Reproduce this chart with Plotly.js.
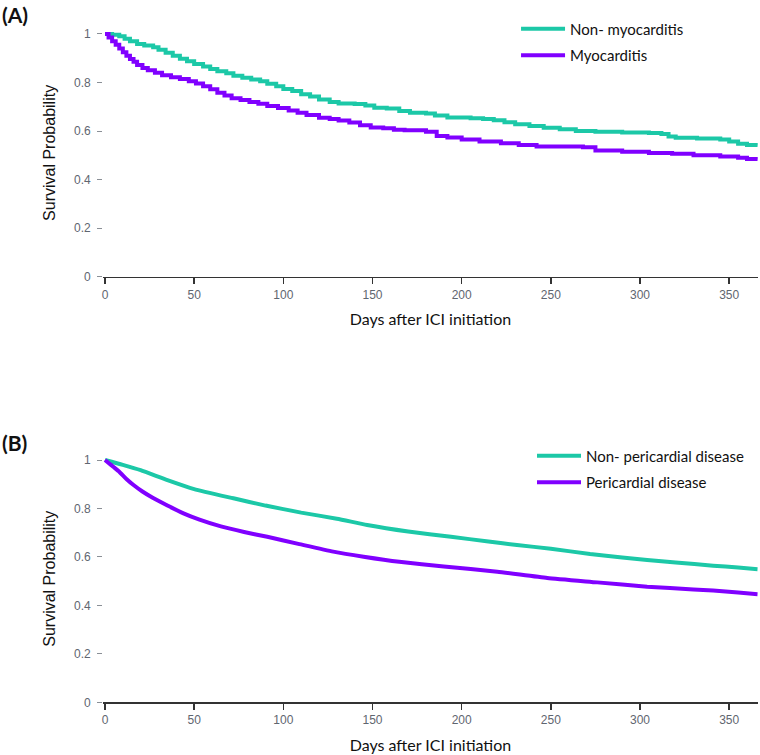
<!DOCTYPE html>
<html>
<head>
<meta charset="utf-8">
<script src="https://cdn.plot.ly/plotly-3.0.1.min.js"></script>
<style>html,body{margin:0;padding:0;background:#fff;}#chart{width:760px;height:755px;}</style>
</head>
<body>
<div id="chart"></div>
<script>
// Panel A: Kaplan-Meier (step) estimates
const daysNonMyo = [0,4,8,11,14,18,22,27,30,34,38,42,46,50,55,59,63,68,72,77,82,87,91,96,100,105,110,115,120,126,131,140,146,151,158,165,171,180,185,192,205,212,218,224,230,238,246,255,264,275,290,305,312,316,320,332,345,350,355,360,366];
const survNonMyo = [1.0,0.997,0.99,0.98,0.97,0.958,0.952,0.945,0.935,0.922,0.91,0.898,0.887,0.876,0.866,0.856,0.846,0.838,0.828,0.82,0.812,0.805,0.795,0.784,0.773,0.765,0.752,0.742,0.73,0.72,0.713,0.711,0.705,0.696,0.693,0.683,0.675,0.672,0.664,0.656,0.653,0.65,0.644,0.636,0.628,0.621,0.614,0.607,0.6,0.597,0.594,0.592,0.588,0.578,0.572,0.569,0.565,0.557,0.548,0.543,0.54];

const daysMyo = [0,2,4,6,8,10,12,14,16,18,21,24,28,32,37,42,47,51,55,59,63,67,71,76,81,86,91,97,103,108,113,120,126,131,137,143,149,156,162,168,180,186,192,200,210,222,232,242,268,275,290,305,318,330,345,355,360,366];
const survMyo = [1.0,0.985,0.97,0.955,0.94,0.925,0.91,0.897,0.885,0.872,0.86,0.85,0.84,0.83,0.822,0.814,0.805,0.796,0.784,0.772,0.758,0.746,0.735,0.728,0.72,0.712,0.703,0.695,0.685,0.675,0.666,0.655,0.65,0.643,0.635,0.624,0.615,0.611,0.605,0.603,0.597,0.58,0.573,0.565,0.557,0.55,0.542,0.536,0.533,0.52,0.515,0.51,0.506,0.5,0.495,0.49,0.485,0.483];

// Panel B
const daysNonPeri = [0,10,20,35,50,72,90,110,130,147,170,194,215,231,250,272,290,304,320,341,355,366];
const survNonPeri = [1.0,0.98,0.958,0.917,0.88,0.842,0.812,0.783,0.758,0.732,0.705,0.683,0.664,0.649,0.634,0.612,0.598,0.587,0.577,0.564,0.556,0.549];

const daysPeri = [0,2,5,8,12,16,21,27,35,44,53,65,78,91,109,128,145,165,190,220,248,276,304,330,341,355,366];
const survPeri = [1.0,0.988,0.97,0.952,0.922,0.897,0.87,0.843,0.812,0.78,0.754,0.726,0.703,0.683,0.653,0.622,0.601,0.58,0.561,0.539,0.513,0.495,0.477,0.466,0.461,0.453,0.446];

const namesA = ["Non- myocarditis", "Myocarditis"];
const namesB = ["Non- pericardial disease", "Pericardial disease"];
const xTickVals = [0,50,100,150,200,250,300,350];
const yTickVals = [0,0.2,0.4,0.6,0.8,1];
const panelLabels = ["(A)", "(B)"];
const xTitle = "Days after ICI initiation";
const yTitle = "Survival Probability";

const TEAL = "#1cc8a7";
const PURPLE = "#8000ff";

const traces = [
  {x: daysNonMyo, y: survNonMyo, name: namesA[0], legendgroup: "a1", type: "scatter", mode: "lines", line: {color: TEAL, width: 4, shape: "hv"}, xaxis: "x", yaxis: "y", legend: "legend"},
  {x: daysMyo, y: survMyo, name: namesA[1], legendgroup: "a2", type: "scatter", mode: "lines", line: {color: PURPLE, width: 4, shape: "hv"}, xaxis: "x", yaxis: "y", legend: "legend"},
  {x: daysNonPeri, y: survNonPeri, name: namesB[0], legendgroup: "b1", type: "scatter", mode: "lines", line: {color: TEAL, width: 4, shape: "spline", smoothing: 0.5}, xaxis: "x2", yaxis: "y2", legend: "legend2"},
  {x: daysPeri, y: survPeri, name: namesB[1], legendgroup: "b2", type: "scatter", mode: "lines", line: {color: PURPLE, width: 4, shape: "spline", smoothing: 0.5}, xaxis: "x2", yaxis: "y2", legend: "legend2"}
];

const tickFont = {family: "Liberation Sans, Arial, sans-serif", size: 12, color: "#5f6670"};
function xAxis(anchor) {
  return {
    anchor: anchor, domain: [0.1358, 0.997], range: [-1, 366],
    tickvals: xTickVals, ticks: "outside", ticklen: 6, tickwidth: 1.5, tickcolor: "#333",
    showline: true, linecolor: "#333", linewidth: 1.5, showgrid: false, zeroline: false,
    tickfont: tickFont,
    title: {text: xTitle, font: {family: "Lato, sans-serif", size: 16, color: "#111"}, standoff: 13},
    automargin: false, fixedrange: true
  };
}
function yAxis(anchor, dom) {
  return {
    anchor: anchor, domain: dom, range: [0, 1.02],
    tickvals: yTickVals, ticks: "outside", ticklen: 5, tickwidth: 1, tickcolor: "#8a8f96",
    ticklabelstandoff: 4,
    showline: false, showgrid: false, zeroline: false,
    tickfont: tickFont,
    title: {text: yTitle, font: {family: "Liberation Sans, Arial, sans-serif", size: 16, color: "#111"}, standoff: 14},
    automargin: false, fixedrange: true
  };
}

const legendFont = {family: "Lato, sans-serif", size: 15, color: "#111"};
const layout = {
  width: 760, height: 755,
  margin: {l: 0, r: 0, t: 0, b: 0},
  paper_bgcolor: "#fff", plot_bgcolor: "#fff",
  showlegend: true,
  xaxis: xAxis("y"),
  yaxis: yAxis("x", [0.6335, 0.9615]),
  xaxis2: xAxis("y2"),
  yaxis2: yAxis("x2", [0.0698, 0.3971]),
  legend: {x: 0.679, y: 0.9834, xanchor: "left", yanchor: "top", font: legendFont, bgcolor: "rgba(0,0,0,0)", itemwidth: 44, tracegroupgap: 4},
  legend2: {x: 0.700, y: 0.4179, xanchor: "left", yanchor: "top", font: legendFont, bgcolor: "rgba(0,0,0,0)", itemwidth: 44, tracegroupgap: 4},
  annotations: [
    {text: "<b>" + panelLabels[0] + "</b>", xref: "paper", yref: "paper", x: 0.0, y: 1 - 15/755, xanchor: "left", yanchor: "middle", showarrow: false, font: {family: "Lato, sans-serif", size: 21, color: "#111"}},
    {text: "<b>" + panelLabels[1] + "</b>", xref: "paper", yref: "paper", x: 0.0, y: 1 - 442/755, xanchor: "left", yanchor: "middle", showarrow: false, font: {family: "Lato, sans-serif", size: 21, color: "#111"}}
  ]
};

Plotly.newPlot("chart", traces, layout, {displayModeBar: false, staticPlot: true});
</script>
</body>
</html>
